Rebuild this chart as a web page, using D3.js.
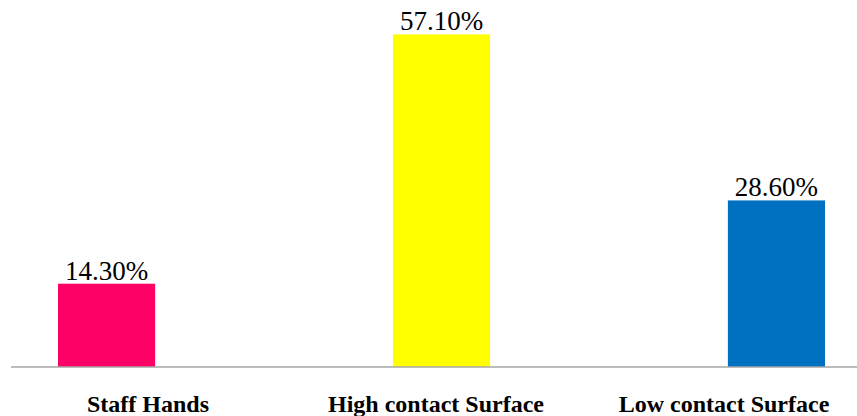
<!DOCTYPE html>
<html>
<head>
<style type="text/css">
body { margin: 0; background: #fff; }
.vlabel { font-family: "Liberation Serif", "Times New Roman", serif; font-size: 27px; fill: #000; }
.clabel { font-family: "Liberation Serif", "Times New Roman", serif; font-size: 24px; font-weight: bold; fill: #000; }
.baseline { stroke: #a6a6a6; stroke-width: 1.5; }
</style>
<script src="https://d3js.org/d3.v7.min.js"></script>
</head>
<body>
<script type="text/javascript">
var categories = ["Staff Hands", "High contact Surface", "Low contact Surface"];
var values = [14.3, 57.1, 28.6];
var labels = ["14.30%", "57.10%", "28.60%"];
var colors = ["#ff0066", "#ffff00", "#0070c0"];

var width = 857;
var height = 416;
var svg = d3.select("body").append("svg").attr("width", width).attr("height", height);

var x = d3.scaleBand().domain(categories).range([58, 825]).paddingInner(0.71).paddingOuter(0);
// category text sits on its own evenly spaced grid in the original
var xLabel = d3.scalePoint().domain(categories).range([148, 724]);
var y = d3.scaleLinear().domain([0, 60]).range([367, 17.5]);

var data = categories.map(function(c, i) {
	return { cat: c, val: values[i], label: labels[i], color: colors[i] };
});

svg.selectAll("rect.bar").data(data).enter().append("rect")
	.attr("class", "bar")
	.attr("x", function(d) { return x(d.cat); })
	.attr("width", x.bandwidth())
	.attr("y", function(d) { return y(d.val); })
	.attr("height", function(d) { return y(0) - y(d.val); })
	.attr("fill", function(d) { return d.color; });

svg.append("line").attr("class", "baseline")
	.attr("x1", 11).attr("x2", width)
	.attr("y1", y(0)).attr("y2", y(0));

svg.selectAll("text.vlabel").data(data).enter().append("text")
	.attr("class", "vlabel")
	.attr("text-anchor", "middle")
	.attr("x", function(d) { return x(d.cat) + x.bandwidth() / 2; })
	.attr("y", function(d) { return y(d.val) - 4; })
	.text(function(d) { return d.label; });

svg.selectAll("text.clabel").data(data).enter().append("text")
	.attr("class", "clabel")
	.attr("text-anchor", "middle")
	.attr("x", function(d) { return xLabel(d.cat); })
	.attr("y", 412)
	.text(function(d) { return d.cat; });
</script>
</body>
</html>
